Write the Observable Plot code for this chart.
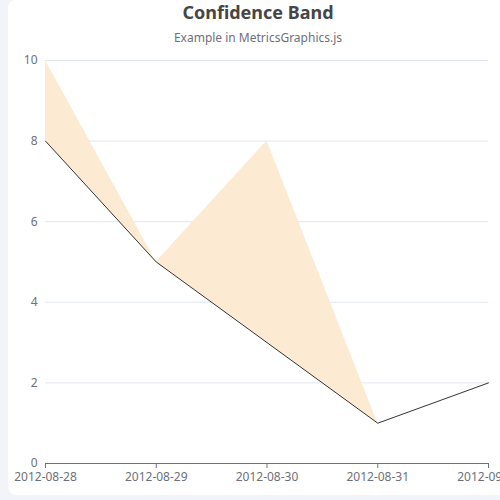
<!DOCTYPE html>
<html>
<head>
<meta charset="utf-8">
<script src="https://cdn.jsdelivr.net/npm/d3@7"></script>
<script src="https://cdn.jsdelivr.net/npm/@observablehq/plot@0.6"></script>
<style>
html, body {
	margin: 0;
	width: 500px;
	height: 500px;
	overflow: hidden;
	background: #f3f4f9;
	font-family: "Noto Sans", sans-serif;
}
#card {
	position: absolute;
	left: 8px;
	top: 0;
	width: 500px;
	height: 495px;
	background: #fff;
	border-radius: 8px;
}
#title {
	position: absolute;
	top: 0;
	width: 100%;
	text-align: center;
	font-size: 18px;
	font-weight: bold;
	color: #464646;
	line-height: 24px;
}
#subtitle {
	position: absolute;
	top: 30px;
	width: 100%;
	text-align: center;
	font-size: 12px;
	color: #6e7079;
	line-height: 16px;
}
#plot {
	position: absolute;
	top: 0;
	left: 0;
}
#plot svg {
	overflow: visible;
}
</style>
</head>
<body>
<div id="card">
	<div id="plot"></div>
	<div id="title">Confidence Band</div>
	<div id="subtitle">Example in MetricsGraphics.js</div>
</div>
<script>

const dates = ['2012-08-28', '2012-08-29', '2012-08-30', '2012-08-31', '2012-09-01'];
const values = [8, 5, 3, 1, 2];
const lower = [8, 5, 3, 1, 2];
const upper = [10, 5, 8, 1, 2];
const yTicks = [0, 2, 4, 6, 8, 10];

const parse = d3.utcParse('%Y-%m-%d');
let data = [];
for (let i = 0; i < dates.length; i++) {
	data.push({date: parse(dates[i]), value: values[i], lower: lower[i], upper: upper[i]});
}

const plot = Plot.plot({
	width: 500,
	height: 495,
	marginTop: 60,
	marginBottom: 32,
	marginLeft: 37,
	marginRight: 20,
	style: {color: '#6e7079', fontSize: '12px', fontFamily: '"Noto Sans", sans-serif', background: 'transparent'},
	x: {type: 'utc', domain: [data[0].date, data[data.length - 1].date]},
	y: {domain: [0, 10]},
	marks: [
		Plot.gridY(yTicks.filter((d) => d > 0), {stroke: '#e0e6f1', strokeOpacity: 1}),
		Plot.areaY(data, {x: 'date', y1: 'lower', y2: 'upper', fill: '#fcebd2', fillOpacity: 1}),
		Plot.lineY(data, {x: 'date', y: 'value', stroke: '#333', strokeWidth: 1}),
		Plot.ruleY([0], {stroke: '#6e7079', strokeWidth: 1}),
		Plot.axisY({ticks: yTicks, tickSize: 0, tickPadding: 8, label: null}),
		Plot.axisX({ticks: data.map((d) => d.date), tickFormat: d3.utcFormat('%Y-%m-%d'), tickSize: 5, tickPadding: 4, label: null}),
	],
});

document.querySelector('#plot').append(plot);

</script>
</body>
</html>
